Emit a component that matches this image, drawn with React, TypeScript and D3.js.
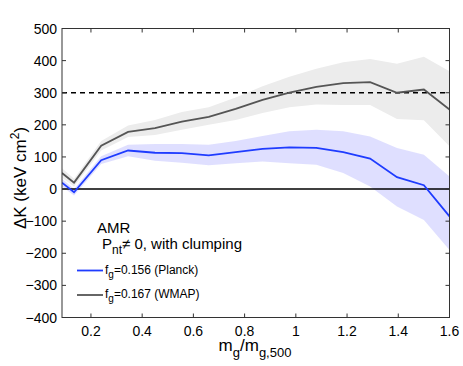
import React from 'react';
import * as d3 from 'd3';

// mass bins
const massBins = [0.087, 0.134, 0.24, 0.345, 0.45, 0.555, 0.66, 0.765, 0.87, 0.975, 1.08, 1.185, 1.29, 1.395, 1.5, 1.6];
// WMAP (f_g = 0.167)
const wmapMid = [50, 20, 135, 178, 190, 210, 225, 250, 278, 300, 318, 330, 333, 300, 310, 248];
const wmapHi = [65, 32, 150, 198, 215, 240, 255, 285, 320, 350, 375, 395, 405, 390, 412, 367];
const wmapLo = [35, 8, 120, 162, 168, 185, 200, 215, 237, 255, 263, 262, 262, 218, 214, 133];
// Planck (f_g = 0.156)
const planckMid = [20, -10, 90, 120, 113, 112, 105, 115, 125, 130, 128, 115, 95, 37, 12, -85];
const planckHi = [32, 0, 102, 138, 140, 140, 138, 150, 165, 180, 185, 180, 164, 128, 107, 39];
const planckLo = [8, -20, 78, 102, 88, 82, 74, 80, 86, 80, 76, 50, 8, -54, -96, -190];

const xTicks = [0.2, 0.4, 0.6, 0.8, 1, 1.2, 1.4, 1.6];
const yTicks = [-400, -300, -200, -100, 0, 100, 200, 300, 400, 500];
const refLevel = 300;

const W = 463, H = 366;
const L = 62, R = 449.5, T = 28.5, B = 317.5;

export default function App() {
  const x = d3.scaleLinear().domain([0.087, 1.6]).range([L, R]);
  const y = d3.scaleLinear().domain([-400, 500]).range([B, T]);

  const line = (vals: number[]) =>
    d3.line<number>().x((_, i) => x(massBins[i])).y(d => y(d))(vals) || '';
  const band = (lo: number[], hi: number[]) =>
    d3.area<number>().x((_, i) => x(massBins[i])).y0((_, i) => y(lo[i])).y1(d => y(d))(hi) || '';

  const font = 'Liberation Sans, Arial, sans-serif';
  const tk = 4;

  return (
    <svg width={W} height={H} style={{ position: 'absolute', left: 0, top: 0, fontFamily: font }}>
      <rect width={W} height={H} fill="#fff" />
      <defs>
        <clipPath id="plot"><rect x={L} y={T} width={R - L} height={B - T} /></clipPath>
      </defs>
      <g clipPath="url(#plot)">
        <path d={band(wmapLo, wmapHi)} fill="#ececec" />
        <path d={band(planckLo, planckHi)} fill="#dcdcff" fillOpacity={0.9} />
        <line x1={L} x2={R} y1={y(refLevel)} y2={y(refLevel)} stroke="#000" strokeWidth={1.5} strokeDasharray="5,4" />
        <line x1={L} x2={R} y1={y(0)} y2={y(0)} stroke="#000" strokeWidth={1.5} />
        <path d={line(wmapMid)} fill="none" stroke="#555" strokeWidth={1.8} />
        <path d={line(planckMid)} fill="none" stroke="#1f3cff" strokeWidth={1.8} />
      </g>
      <rect x={L} y={T} width={R - L} height={B - T} fill="none" stroke="#333" strokeWidth={1} />
      {xTicks.map(t => (
        <g key={'x' + t}>
          <line x1={x(t)} x2={x(t)} y1={B} y2={B - tk} stroke="#333" />
          <line x1={x(t)} x2={x(t)} y1={T} y2={T + tk} stroke="#333" />
          <text x={x(t)} y={336} fontSize={14} textAnchor="middle">{String(t)}</text>
        </g>
      ))}
      {yTicks.map(t => (
        <g key={'y' + t}>
          <line x1={L} x2={L + tk} y1={y(t)} y2={y(t)} stroke="#333" />
          <line x1={R} x2={R - tk} y1={y(t)} y2={y(t)} stroke="#333" />
          <text x={57} y={y(t) + 5} fontSize={14} textAnchor="end">{t < 0 ? '\u2212' + Math.abs(t) : String(t)}</text>
        </g>
      ))}
      <text transform="translate(26,178) rotate(-90)" fontSize={17} textAnchor="middle">
        ΔK (keV cm<tspan dy={-7} fontSize={12}>2</tspan><tspan dy={7}>)</tspan>
      </text>
      <text x={255} y={351} fontSize={17} textAnchor="middle">
        m<tspan dy={6} fontSize={13}>g</tspan><tspan dy={-6}>/m</tspan><tspan dy={6} fontSize={13}>g,500</tspan>
      </text>
      <text x={97} y={233} fontSize={15}>AMR</text>
      <text x={102} y={249} fontSize={15}>
        P<tspan dy={5} fontSize={12}>nt</tspan><tspan dy={-5}>≠ 0, with clumping</tspan>
      </text>
      <line x1={77} x2={103} y1={270.5} y2={270.5} stroke="#1f3cff" strokeWidth={1.8} />
      <text x={105} y={274} fontSize={12}>
        f<tspan dy={4} fontSize={10}>g</tspan><tspan dy={-4}>=0.156 (Planck)</tspan>
      </text>
      <line x1={77} x2={103} y1={295} y2={295} stroke="#555" strokeWidth={1.8} />
      <text x={105} y={298} fontSize={12}>
        f<tspan dy={4} fontSize={10}>g</tspan><tspan dy={-4}>=0.167 (WMAP)</tspan>
      </text>
    </svg>
  );
}
